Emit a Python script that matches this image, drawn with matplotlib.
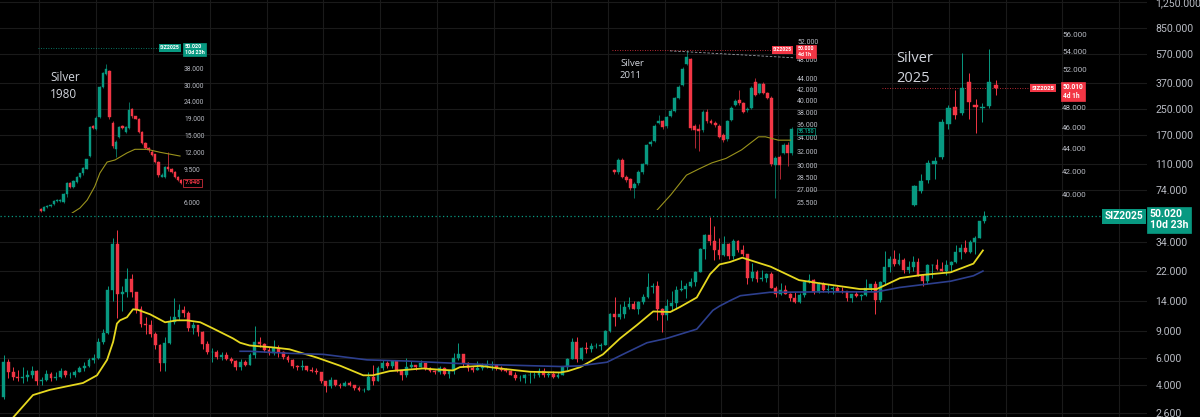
import numpy as np
import matplotlib.pyplot as plt
from matplotlib.ticker import NullLocator

plt.rcParams['font.family'] = ['Roboto', 'DejaVu Sans']

W, H = 1200, 417
BG = "#000000"
UP = "#089981"
DOWN = "#f23645"
GRID = "#1a1a1a"
LABEL = "#b8bbc3"
TEXT = "#d1d4dc"
YELLOW = "#e6d81f"
BLUE = "#2d3f8e"
OLIVE = "#9a931c"

# ---- main chart: quarterly candles, 1974 Q1 .. 2025 Q4 ----
first_year = 1974
first_open = 3.3
q_close = [
    5.6, 4.8, 4.5, 4.4,   4.5, 4.6, 4.9, 4.2,   4.3, 4.7, 4.4, 4.5,   4.9, 4.6, 4.6, 4.8,
    5.1, 5.3, 5.8, 6.0,   7.6, 8.7, 16.5, 33.0, 15.5, 16.0, 19.5, 16.0, 12.5, 10.0, 9.8, 8.5,
    7.3, 5.5, 7.5, 10.2,  11.0, 12.3, 11.8, 9.4, 9.8, 8.8, 7.4, 6.5,   6.5, 6.1, 6.2, 5.9,
    5.7, 5.2, 5.6, 5.4,   6.2, 7.6, 7.4, 6.7,   6.4, 6.9, 6.5, 6.1,   5.8, 5.3, 5.2, 5.3,
    5.0, 4.9, 4.8, 4.2,   3.9, 4.3, 4.0, 3.9,   4.1, 4.0, 3.8, 3.7,   3.7, 4.5, 4.2, 5.1,
    5.5, 5.3, 5.7, 4.9,   4.6, 5.2, 5.4, 5.2,   5.5, 5.1, 4.9, 4.8,   5.1, 4.7, 4.9, 6.0,
    6.3, 5.5, 5.1, 5.0,   5.1, 5.3, 5.4, 5.4,   5.1, 5.0, 4.9, 4.6,   4.4, 4.4, 4.6, 4.6,
    4.6, 4.9, 4.6, 4.7,   4.5, 4.6, 5.2, 5.9,   7.6, 5.9, 6.9, 6.8,   7.1, 7.1, 7.3, 8.9,
    11.5, 11.0, 11.5, 12.9, 13.4, 12.4, 13.8, 14.8, 17.2, 17.6, 12.5, 11.3, 13.1, 13.6, 16.6, 16.9,
    17.5, 18.6, 21.8, 30.8, 37.8, 34.8, 30.0, 28.2, 32.8, 27.5, 34.6, 30.0, 28.3, 19.7, 21.8, 19.5,
    19.8, 21.0, 17.1, 15.7, 16.6, 15.6, 14.6, 13.8, 15.4, 18.7, 19.2, 16.0, 18.2, 16.6, 16.8, 17.0,
    16.4, 16.2, 14.7, 15.5, 15.1, 15.3, 17.0, 18.0, 14.2, 18.6, 23.5, 26.4, 24.5, 26.1, 22.2, 23.3,
    25.1, 20.4, 19.0, 24.0, 24.1, 22.8, 22.1, 24.1, 25.1, 29.4, 31.3, 29.1, 34.2, 36.2, 46.4, 50.02,
]
q_high = [
    6.2, 5.9, 5.2, 5.0,   5.2, 5.0, 5.3, 5.0,   4.5, 5.0, 4.8, 4.8,   5.1, 5.0, 4.8, 5.0,
    5.3, 5.6, 6.0, 6.3,   8.0, 9.2, 17.5, 36.0, 41.0, 17.5, 23.0, 21.0, 16.0, 13.0, 11.0, 10.5,
    8.8, 7.4, 8.2, 11.2,  14.6, 13.4, 13.0, 12.0, 10.2, 9.8, 9.0, 7.7,  6.9, 6.7, 6.5, 6.5,
    6.1, 5.8, 5.9, 5.8,   6.4, 9.6, 8.2, 7.5,   7.0, 7.8, 7.2, 6.6,   6.2, 5.9, 5.4, 5.8,
    5.3, 5.2, 5.1, 4.8,   4.2, 4.5, 4.3, 4.1,   4.2, 4.2, 4.0, 3.9,   3.8, 4.8, 5.4, 5.3,
    5.8, 5.7, 5.8, 5.8,   5.0, 6.0, 5.7, 5.4,   5.8, 5.5, 5.2, 5.0,   5.3, 5.2, 5.0, 6.4,
    7.5, 6.3, 5.6, 5.3,   5.7, 5.5, 5.8, 5.7,   5.4, 5.3, 5.1, 5.0,   4.8, 4.6, 4.7, 4.8,
    4.8, 5.1, 5.1, 4.8,   4.9, 4.8, 5.3, 6.0,   8.0, 8.2, 7.0, 7.6,   7.5, 7.5, 7.5, 9.1,
    11.8, 14.8, 13.4, 14.0, 14.8, 14.0, 14.1, 15.5, 21.5, 18.5, 19.0, 12.6, 14.5, 16.3, 17.5, 19.3,
    18.3, 19.8, 22.0, 31.3, 38.2, 49.5, 43.5, 36.0, 37.5, 33.5, 35.4, 35.0, 32.5, 28.5, 25.0, 22.5,
    22.2, 21.5, 21.6, 17.5, 18.5, 17.8, 15.8, 16.0, 15.8, 18.8, 21.2, 19.4, 18.6, 18.6, 18.0, 17.6,
    17.7, 17.3, 16.3, 15.6, 16.2, 15.5, 19.6, 18.2, 18.9, 18.9, 29.8, 27.5, 30.0, 28.8, 26.8, 25.5,
    27.5, 26.9, 20.9, 24.6, 24.6, 26.4, 25.3, 26.0, 25.7, 32.7, 32.8, 35.0, 35.0, 37.3, 47.0, 54.5,
]
q_low = [
    3.2, 4.4, 4.3, 4.2,   4.1, 4.2, 4.4, 4.0,   4.0, 4.2, 4.2, 4.3,   4.4, 4.5, 4.4, 4.5,
    4.8, 4.9, 5.2, 5.5,   5.9, 7.4, 8.6, 14.0,  10.8, 12.0, 15.0, 14.8, 11.8, 9.5, 8.6, 8.2,
    6.8, 4.9, 4.9, 7.4,   10.0, 10.5, 11.0, 8.9, 8.5, 8.3, 6.8, 6.3,   5.6, 5.9, 5.8, 5.8,
    5.5, 5.0, 5.0, 5.3,   5.4, 6.0, 7.0, 6.5,   6.2, 6.2, 6.1, 5.9,   5.6, 5.1, 5.0, 5.0,
    4.9, 4.8, 4.7, 4.1,   3.6, 3.8, 3.9, 3.8,   3.9, 3.9, 3.7, 3.65,  3.6, 3.7, 4.0, 4.2,
    5.0, 5.1, 5.1, 4.8,   4.3, 4.5, 5.1, 5.0,   5.2, 5.0, 4.8, 4.7,   4.7, 4.6, 4.4, 4.7,
    5.8, 5.2, 4.9, 4.8,   5.0, 5.0, 5.1, 5.0,   5.0, 4.9, 4.8, 4.6,   4.3, 4.2, 4.1, 4.1,
    4.4, 4.5, 4.5, 4.5,   4.4, 4.4, 4.6, 5.0,   5.9, 5.6, 5.8, 6.4,   6.5, 6.9, 6.7, 7.3,
    8.8, 9.6, 10.7, 10.9, 12.4, 12.4, 11.6, 13.4, 14.6, 15.8, 10.5, 8.8, 10.6, 12.0, 12.5, 16.3,
    14.7, 17.2, 17.5, 21.7, 26.4, 32.5, 26.0, 26.2, 27.5, 26.2, 26.5, 29.5, 27.5, 18.2, 19.0, 18.8,
    19.0, 18.7, 17.0, 14.8, 15.3, 15.5, 14.0, 13.6, 13.6, 15.0, 18.5, 15.7, 15.9, 16.0, 15.9, 15.6,
    16.2, 15.9, 14.0, 13.9, 14.8, 14.3, 15.1, 16.2, 11.6, 13.9, 17.8, 21.8, 23.8, 24.0, 21.4, 21.4,
    22.0, 20.3, 17.6, 18.1, 19.9, 22.2, 21.9, 20.7, 21.9, 25.0, 26.5, 28.8, 29.0, 28.5, 36.0, 45.5,
]

# moving averages (year, price)
ma_fast_year = [1974.3, 1975.67, 1976.57, 1977.46, 1978.31, 1979.05, 1979.58, 1979.9, 1980.1, 1980.26,
                1980.63, 1980.95, 1981.2, 1981.85, 1982.64, 1983.27, 1983.8, 1984.5, 1985.17, 1986.23,
                1986.6, 1987.1, 1988.3, 1989.2, 1990.66, 1991.9, 1993.1, 1993.6, 1994.5, 1995.4,
                1996.25, 1997.15, 1997.84, 1998.2, 1999.3, 2000.3, 2001.9, 2003.5, 2003.9, 2004.55,
                2005.75, 2006.65, 2007.55, 2008.4, 2009.3, 2009.8, 2010.7, 2011.4, 2011.9, 2012.45,
                2013.1, 2014.6, 2016.1, 2017.2, 2018.6, 2019.3, 2020.2, 2021.43, 2022.5, 2024.1,
                2025.3, 2025.8]
ma_fast_price = [2.2, 3.42, 3.7, 3.9, 4.1, 4.6, 5.8, 7.6, 10.0, 10.5,
                 11.0, 12.4, 12.3, 11.5, 10.2, 10.5, 10.5, 10.2, 9.3, 8.0,
                 7.5, 7.2, 7.0, 6.8, 6.0, 5.3, 4.6, 4.6, 4.9, 5.0,
                 5.1, 5.0, 4.95, 5.2, 5.3, 5.1, 4.85, 4.8, 4.9, 5.2,
                 6.3, 8.0, 9.8, 12.0, 11.9, 12.8, 14.8, 21.0, 24.3, 25.2,
                 26.9, 23.5, 19.2, 18.3, 17.3, 16.8, 16.8, 19.8, 20.7, 21.6,
                 24.6, 30.0]
ma_slow_year = [1986.6, 1987.1, 1989.2, 1991.0, 1993.3, 1995.4, 1998.05, 1999.8, 2003.5, 2004.5,
                2005.96, 2006.8, 2008.07, 2009.1, 2010.7, 2011.55, 2011.9, 2012.45, 2013.0, 2014.56,
                2017.2, 2020.2, 2021.4, 2024.1, 2025.3, 2025.8]
ma_slow_price = [6.6, 6.6, 6.4, 6.3, 5.8, 5.7, 5.5, 5.4, 5.25, 5.3,
                 5.6, 6.3, 7.5, 8.0, 9.2, 12.2, 13.0, 14.1, 15.2, 16.0,
                 16.1, 16.1, 17.2, 18.9, 20.5, 22.0]

main_ticks = [2.6, 4, 6, 9, 14, 22, 34, 74, 110, 170, 250, 370, 570, 850, 1250]
main_tick_labels = ["2.600", "4.000", "6.000", "9.000", "14.000", "22.000", "34.000", "74.000",
                    "110.000", "170.000", "250.000", "370.000", "570.000", "850.000", "1,250.000"]
last_price = 50.02

# ---- inset 1980 ----
s80_open = [5.5, 5.4, 5.65, 5.75, 5.9, 6.15, 6.2, 6.1, 6.8, 7.9, 7.5, 8.0, 8.5, 9.0, 9.6,
            11.4, 17.1, 16.5, 19.5, 29.4, 34.9, 36.5, 17.9, 12.5, 14.8, 17.2, 15.8, 16.8, 21.6,
            19.6, 19.0, 15.8, 13.6, 12.7, 12.1, 11.7, 10.5, 8.6, 8.5, 9.8, 9.5, 9.2, 8.5, 8.2]
s80_close = [5.35, 5.65, 5.75, 5.85, 6.2, 6.25, 6.25, 6.8, 7.9, 7.5, 8.1, 8.6, 9.0, 9.7, 10.9,
             17.0, 16.8, 19.3, 29.4, 35.5, 37.5, 19.5, 13.0, 13.8, 17.0, 16.7, 16.9, 21.4, 19.6,
             19.0, 15.8, 13.6, 12.7, 12.3, 11.6, 10.5, 8.8, 8.8, 9.8, 9.5, 9.2, 8.5, 8.2, 7.9]
s80_high = [5.6, 5.75, 5.85, 5.9, 6.25, 6.3, 6.35, 6.9, 8.0, 8.0, 8.2, 8.7, 9.1, 9.8, 11.0,
            17.3, 17.4, 19.6, 29.8, 36.0, 40.0, 37.0, 18.5, 14.2, 17.3, 17.5, 17.2, 24.0, 22.0,
            19.8, 19.2, 16.0, 13.9, 12.9, 12.3, 11.8, 10.6, 9.0, 10.0, 12.0, 9.7, 9.3, 8.7, 8.3]
s80_low = [5.3, 5.35, 5.6, 5.7, 5.85, 6.1, 6.1, 6.0, 6.5, 7.4, 7.4, 7.9, 8.4, 8.8, 9.5,
           11.2, 16.5, 16.2, 19.3, 29.0, 34.5, 19.0, 12.8, 11.3, 14.6, 16.4, 15.6, 16.6, 19.2,
           18.8, 15.6, 13.4, 12.5, 12.0, 11.4, 10.3, 8.6, 8.5, 8.4, 9.3, 9.0, 8.4, 8.1, 7.8]
s80_ma_idx = [8.5, 9.6, 12.0, 14.2, 16.5, 18.1, 20.3, 22.7, 26.4, 28.8, 32.5, 36.5, 42.6]
s80_ma = [5.0, 5.23, 5.6, 6.24, 7.5, 9.04, 10.5, 10.8, 11.9, 12.5, 12.5, 12.0, 11.4]
s80_ticks = [6, 9.5, 12, 15, 19, 24, 30, 38]
s80_labels = ["6.000", "9.500", "12.000", "15.000", "19.000", "24.000", "30.000", "38.000"]

# ---- inset 2011 ----
s11_open = [29.4, 29.2, 30.8, 28.6, 28.3, 27.2, 27.8, 29.2, 30.3, 33.0, 33.5, 36.2, 36.5, 35.8, 37.4,
            38.2, 40.5, 42.9, 47.0, 48.0, 35.7, 35.3, 35.1, 38.0, 36.6, 36.3, 35.8, 34.3, 33.7, 36.8,
            39.2, 40.1, 39.5, 38.3, 38.7, 43.4, 41.4, 43.0, 41.3, 40.5, 30.1, 31.2, 31.8, 32.9, 31.7]
s11_close = [29.2, 30.8, 28.6, 28.2, 27.2, 27.7, 29.2, 30.2, 32.9, 33.3, 35.8, 36.5, 35.6, 37.2, 38.2,
             40.4, 42.4, 46.0, 48.5, 35.5, 35.2, 35.0, 38.1, 36.6, 36.3, 35.9, 34.1, 33.6, 36.6, 38.7,
             40.0, 39.6, 38.0, 38.6, 42.3, 41.0, 43.1, 41.4, 40.5, 30.2, 31.0, 30.1, 32.9, 31.7, 35.3]
s11_high = [29.6, 31.0, 31.0, 28.8, 28.5, 28.0, 29.4, 30.4, 33.1, 33.6, 36.0, 37.5, 36.8, 37.4, 38.6,
            40.6, 42.8, 46.4, 50.0, 48.3, 36.0, 36.0, 38.4, 38.5, 36.9, 36.6, 36.0, 34.6, 36.8, 39.0,
            40.3, 42.0, 39.8, 38.9, 42.6, 44.2, 43.3, 43.4, 41.6, 40.8, 31.4, 31.5, 33.2, 33.3, 35.6]
s11_low = [29.0, 29.0, 28.4, 27.9, 27.0, 26.0, 27.6, 29.0, 30.1, 32.8, 33.3, 36.0, 35.3, 35.5, 37.2,
           38.0, 40.3, 42.7, 46.8, 35.2, 32.5, 32.0, 34.8, 36.3, 36.0, 35.6, 33.9, 33.3, 33.5, 36.6,
           39.0, 39.3, 37.8, 38.0, 38.5, 40.8, 41.2, 41.2, 40.2, 30.0, 26.0, 28.3, 31.6, 30.0, 31.5]
s11_ma_idx = [9.5, 10.0, 14.0, 17.9, 21.0, 24.2, 27.7, 31.6, 35.8, 37.5, 40.7, 43.7]
s11_ma = [24.0, 24.4, 26.4, 28.8, 29.6, 30.4, 31.0, 32.2, 34.1, 34.1, 33.6, 33.6]
s11_trend_idx = [13.8, 44.5]
s11_trend = [49.8, 48.3]
s11_ticks = [25.5, 27, 28.5, 30, 32, 34, 36, 38, 40, 42, 44, 48, 52]
s11_labels = ["25.500", "27.000", "28.500", "30.000", "32.000", "34.000", "36.000", "38.000",
              "40.000", "42.000", "44.000", "48.000", "52.000"]

# ---- inset 2025 ----
s25_open = [39.1, 40.3, 41.2, 42.6, 43.3, 46.4, 48.1, 47.5, 50.6, 48.3, 48.0, 48.2, 50.3]
s25_close = [40.7, 41.1, 42.7, 42.9, 46.6, 48.0, 47.3, 50.0, 48.6, 48.1, 48.1, 50.7, 50.0]
s25_high = [40.8, 41.7, 43.0, 43.3, 46.9, 48.3, 49.8, 53.8, 51.6, 48.9, 48.5, 54.3, 50.9]
s25_low = [39.0, 40.1, 41.0, 41.3, 43.1, 45.9, 46.9, 47.3, 46.9, 45.5, 46.6, 48.0, 49.3]
s25_ticks = [40, 42, 44, 46, 48, 52, 54, 56]
s25_labels = ["40.000", "42.000", "44.000", "46.000", "48.000", "52.000", "54.000", "56.000"]


def px_axes(fig, x0, y0, x1, y1):
    return fig.add_axes([x0 / W, 1 - y1 / H, (x1 - x0) / W, (y1 - y0) / H])


def draw_candles(ax, x, o, h, l, c, width, wick_lw=0.6):
    x = np.asarray(x, float)
    o, h, l, c = (np.asarray(v, float) for v in (o, h, l, c))
    colors = np.where(c >= o, UP, DOWN)
    ax.vlines(x, l, h, colors=colors, linewidth=wick_lw, zorder=2)
    bottom = np.minimum(o, c)
    ax.bar(x, np.maximum(o, c) - bottom, width=width, bottom=bottom, color=colors,
           edgecolor=colors, linewidth=0.3, zorder=3)


def price_tag(ax, y, text, color, size, filled=True, dy=0, pad=0.25):
    trans = ax.get_yaxis_transform()
    box = dict(boxstyle=f"square,pad={pad}", fc=color if filled else BG, ec=color, lw=0.5)
    ax.annotate(text, xy=(1.0, y), xycoords=trans, xytext=(2, dy), textcoords="offset points",
                ha="left", va="top" if dy else "center", fontsize=size,
                color="white" if filled else color, fontweight="bold", bbox=box,
                annotation_clip=False, zorder=6, linespacing=1.1)


def name_tag(ax, y, xr, text, color, size):
    ax.text(xr, y, text, transform=ax.get_yaxis_transform(), ha="right", va="center",
            fontsize=size, color="white", fontweight="bold", zorder=6,
            bbox=dict(boxstyle="square,pad=0.25", fc=color, ec="none"))


def style_inset(ax, xlim, ylim, ticks, labels, size):
    ax.set_facecolor("none")
    ax.set_yscale("log")
    ax.set_xlim(*xlim)
    ax.set_ylim(*ylim)
    ax.yaxis.tick_right()
    ax.set_yticks(ticks, labels)
    ax.yaxis.set_minor_locator(NullLocator())
    ax.set_xticks([])
    ax.tick_params(axis="y", length=0, pad=1.5, labelsize=size, labelcolor=LABEL)
    for s in ax.spines.values():
        s.set_visible(False)


fig = plt.figure(figsize=(W / 100, H / 100), dpi=100, facecolor=BG)

# main axes
ax = px_axes(fig, 0, 0, 1147, 417)
ax.set_facecolor(BG)
ax.set_yscale("log")
ax.set_ylim(2.46, 1288)
ax.set_xlim(1973.93, 2034.46)
n = len(q_close)
years = first_year + 0.125 + 0.25 * np.arange(n)
q_open = [first_open] + q_close[:-1]
draw_candles(ax, years, q_open, q_high, q_low, q_close, width=0.15, wick_lw=0.7)
ax.plot(ma_fast_year, ma_fast_price, color=YELLOW, lw=1.3, zorder=4)
ax.plot(ma_slow_year, ma_slow_price, color=BLUE, lw=1.2, zorder=4)

ax.yaxis.tick_right()
ax.set_yticks(main_ticks, main_tick_labels)
ax.yaxis.set_minor_locator(NullLocator())
ax.tick_params(axis="y", length=0, pad=6, labelsize=7.6, labelcolor=LABEL)
ax.set_xticks(np.arange(1976, 2035, 3))
ax.tick_params(axis="x", length=0, labelbottom=False)
ax.grid(True, color=GRID, lw=0.8, zorder=0)
ax.set_axisbelow(True)
for s in ax.spines.values():
    s.set_visible(False)

ax.plot([0, 0.962], [last_price, last_price], transform=ax.get_yaxis_transform(),
        color=UP, lw=0.9, ls=(0, (1, 2)), zorder=5)
name_tag(ax, last_price, 0.997, "SIZ2025", UP, 7.4)
price_tag(ax, last_price, "50.020\n10d 23h", UP, 7.6, dy=5)

# inset 1980
a1 = px_axes(fig, 38, 35, 182, 213)
style_inset(a1, (-0.83, 43.2), (5.23, 59.7), s80_ticks, s80_labels, 4.8)
draw_candles(a1, np.arange(len(s80_close)), s80_open, s80_high, s80_low, s80_close, 0.7, 0.5)
a1.plot(s80_ma_idx, s80_ma, color=OLIVE, lw=0.8, zorder=4)
a1.plot([0, 0.84], [50.02, 50.02], transform=a1.get_yaxis_transform(), color=UP, lw=0.6,
        ls=(0, (1, 2)))
name_tag(a1, 50.02, 0.985, "SIZ2025", UP, 3.8)
price_tag(a1, 50.02, "50.020\n10d 23h", UP, 3.9, dy=2.5)
price_tag(a1, s80_close[-1], "7.940", DOWN, 4.4, filled=False)
a1.text(0.083, 0.80, "Silver\n1980", transform=a1.transAxes, ha="left", va="top",
        fontsize=8.5, color=TEXT, linespacing=1.45, family=["Open Sans", "DejaVu Sans"])

# inset 2011
a2 = px_axes(fig, 610, 38, 795, 210)
style_inset(a2, (-1.07, 44.84), (24.7, 52.7), s11_ticks, s11_labels, 5.0)
draw_candles(a2, np.arange(len(s11_close)), s11_open, s11_high, s11_low, s11_close, 0.72, 0.5)
a2.plot(s11_ma_idx, s11_ma, color=OLIVE, lw=0.8, zorder=4)
a2.plot([0.01, 0.89], [50.0, 50.0], transform=a2.get_yaxis_transform(), color=DOWN, lw=0.6,
        ls=(0, (1, 2)))
a2.plot(s11_trend_idx, s11_trend, color="#9a9da5", lw=0.6, ls=(0, (3, 2)), zorder=4)
name_tag(a2, 50.0, 0.985, "SIZ2025", DOWN, 3.6)
price_tag(a2, 50.0, "50.000\n4d 1h", DOWN, 3.8, dy=2.5)
price_tag(a2, 34.9, "35.150", UP, 3.8, filled=False, pad=0.12)
a2.text(0.054, 0.875, "Silver\n2011", transform=a2.transAxes, ha="left", va="top",
        fontsize=6.8, color=TEXT, linespacing=1.35, family=["Open Sans", "DejaVu Sans"])

# inset 2025
a3 = px_axes(fig, 880, 25, 1060, 210)
style_inset(a3, (-5.04, 21.4), (38.7, 57.1), s25_ticks, s25_labels, 5.8)
draw_candles(a3, np.arange(len(s25_close)), s25_open, s25_high, s25_low, s25_close, 0.66, 0.7)
a3.plot([0.01, 0.844], [50.01, 50.01], transform=a3.get_yaxis_transform(), color=DOWN, lw=0.6,
        ls=(0, (1, 2)))
name_tag(a3, 50.01, 0.97, "SIZ2025", DOWN, 4.4)
price_tag(a3, 50.01, "50.010\n4d 1h", DOWN, 4.8, dy=3.5)
a3.text(0.089, 0.86, "Silver\n2025", transform=a3.transAxes, ha="left", va="top",
        fontsize=10.5, color=TEXT, linespacing=1.45, family=["Open Sans", "DejaVu Sans"])

fig.savefig("out.png", dpi=100, facecolor=BG)
